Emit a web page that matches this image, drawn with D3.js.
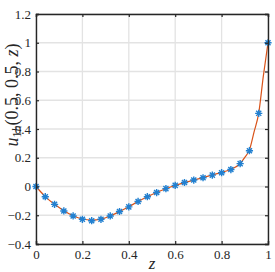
<head>
  <script src="https://d3js.org/d3.v7.min.js"></script>
</head>
<style>
body { margin: 0; background: #fff; }
.tick text { font-family: "Liberation Serif", "DejaVu Serif", serif; font-size: 13px; fill: #262626; }
</style>
<body>
  <svg id="svg_plot"></svg>
</body>
<script>
  var w = 275;
  var h = 272;
  var margin = {top: 14, right: 7, bottom: 28, left: 36};
  var plot_w = w - margin.left - margin.right;
  var plot_h = h - margin.top - margin.bottom;

// numerical solution (markers)
  var markerZ = [0, 0.04, 0.08, 0.12, 0.16, 0.20, 0.24, 0.28, 0.32, 0.36, 0.40, 0.44, 0.48,
                 0.52, 0.56, 0.60, 0.64, 0.68, 0.72, 0.76, 0.80, 0.84, 0.88, 0.92, 0.96, 1.00];
  var markerU = [0, -0.071, -0.124, -0.170, -0.205, -0.228, -0.238, -0.228, -0.205, -0.174, -0.142, -0.104, -0.071,
                 -0.042, -0.015, 0.008, 0.028, 0.045, 0.061, 0.079, 0.096, 0.118, 0.159, 0.249, 0.509, 1.0];

// exact solution (line)
  var lineZ = [0, 0.04, 0.08, 0.12, 0.16, 0.20, 0.24, 0.28, 0.32, 0.36, 0.40, 0.44, 0.48,
               0.52, 0.56, 0.60, 0.64, 0.68, 0.72, 0.76, 0.80, 0.84, 0.88, 0.90, 0.92, 0.94, 0.96, 0.98, 1.00];
  var lineU = [0, -0.070, -0.124, -0.168, -0.203, -0.226, -0.234, -0.227, -0.205, -0.174, -0.141, -0.104, -0.071,
               -0.042, -0.016, 0.007, 0.027, 0.045, 0.062, 0.080, 0.098, 0.120, 0.160, 0.203, 0.255, 0.38, 0.51, 0.77, 1.0];

  var xTicks = [0, 0.2, 0.4, 0.6, 0.8, 1];
  var yTicks = [-0.4, -0.2, 0, 0.2, 0.4, 0.6, 0.8, 1, 1.2];

  var xScale = d3.scaleLinear().domain([0, 1]).range([0, plot_w]);
  var yScale = d3.scaleLinear().domain([-0.4, 1.2]).range([plot_h, 0]);

  var fmt = function(d){ return String(+d.toFixed(1)).replace("-", "\u2212"); };

  var svg = d3.select("svg#svg_plot")
      .attr("width", w)
      .attr("height", h)
      .append("g")
      .attr("transform", "translate(" + margin.left + "," + margin.top + ")");

// grid
  svg.append("g").selectAll("line.gx")
      .data(xTicks).enter().append("line")
      .attr("x1", function(d){ return xScale(d); })
      .attr("x2", function(d){ return xScale(d); })
      .attr("y1", 0).attr("y2", plot_h)
      .attr("stroke", "#e3e3e3").attr("stroke-width", 1.3);
  svg.append("g").selectAll("line.gy")
      .data(yTicks).enter().append("line")
      .attr("y1", function(d){ return yScale(d); })
      .attr("y2", function(d){ return yScale(d); })
      .attr("x1", 0).attr("x2", plot_w)
      .attr("stroke", "#e3e3e3").attr("stroke-width", 1.3);

// line
  var lineData = lineZ.map(function(z, i){ return [z, lineU[i]]; });
  svg.append("path")
      .datum(lineData)
      .attr("fill", "none")
      .attr("stroke", "#D95319")
      .attr("stroke-width", 1.2)
      .attr("d", d3.line()
        .x(function(d){ return xScale(d[0]); })
        .y(function(d){ return yScale(d[1]); })
        .curve(d3.curveMonotoneX));

// asterisk markers
  var markerData = markerZ.map(function(z, i){ return [z, markerU[i]]; });
  var r = 3.6;
  var d45 = r * Math.SQRT1_2;
  var starPath = "M" + (-r) + ",0L" + r + ",0M0," + (-r) + "L0," + r +
      "M" + (-d45) + "," + (-d45) + "L" + d45 + "," + d45 +
      "M" + (-d45) + "," + d45 + "L" + d45 + "," + (-d45);
  svg.append("g").selectAll("path")
      .data(markerData).enter().append("path")
      .attr("transform", function(d){ return "translate(" + xScale(d[0]) + "," + yScale(d[1]) + ")"; })
      .attr("d", starPath)
      .attr("fill", "none")
      .attr("stroke", "#2280d0")
      .attr("stroke-width", 1.4);

// axes (ticks inward, box)
  var xAxisB = d3.axisBottom(xScale).tickValues(xTicks).tickSize(-3).tickPadding(6).tickFormat(fmt);
  var xAxisT = d3.axisTop(xScale).tickValues(xTicks).tickSize(-3).tickFormat("");
  var yAxisL = d3.axisLeft(yScale).tickValues(yTicks).tickSize(-3).tickPadding(5).tickFormat(fmt);
  var yAxisR = d3.axisRight(yScale).tickValues(yTicks).tickSize(-3).tickFormat("");

  var axes = [
    svg.append("g").attr("transform", "translate(0," + plot_h + ")").call(xAxisB),
    svg.append("g").call(xAxisT),
    svg.append("g").call(yAxisL),
    svg.append("g").attr("transform", "translate(" + plot_w + ",0)").call(yAxisR)
  ];
  axes.forEach(function(a){
    a.select(".domain").attr("stroke", "#262626").attr("stroke-width", 1.4);
    a.selectAll(".tick line").attr("stroke", "#262626").attr("stroke-width", 1.2);
  });

// labels
  svg.append("text")
      .attr("x", plot_w / 2)
      .attr("y", plot_h + 25)
      .attr("text-anchor", "middle")
      .style("font-family", "'Liberation Serif', serif")
      .style("font-style", "italic")
      .style("font-size", "17px")
      .attr("fill", "#262626")
      .text("z");

  var yl = svg.append("text")
      .attr("transform", "translate(" + (-18) + "," + 81 + ") rotate(-90)")
      .attr("text-anchor", "middle")
      .style("font-family", "'Liberation Serif', serif")
      .style("font-size", "18px")
      .attr("fill", "#262626");
  yl.append("tspan").style("font-style", "italic").text("u");
  yl.append("tspan").attr("dy", 3).style("font-size", "12px").text("1");
  yl.append("tspan").style("font-size", "12px").style("font-style", "italic").text("h");
  yl.append("tspan").attr("dy", -3).text("(0.5, 0.5, ");
  yl.append("tspan").style("font-style", "italic").text("z");
  yl.append("tspan").text(")");
</script>
